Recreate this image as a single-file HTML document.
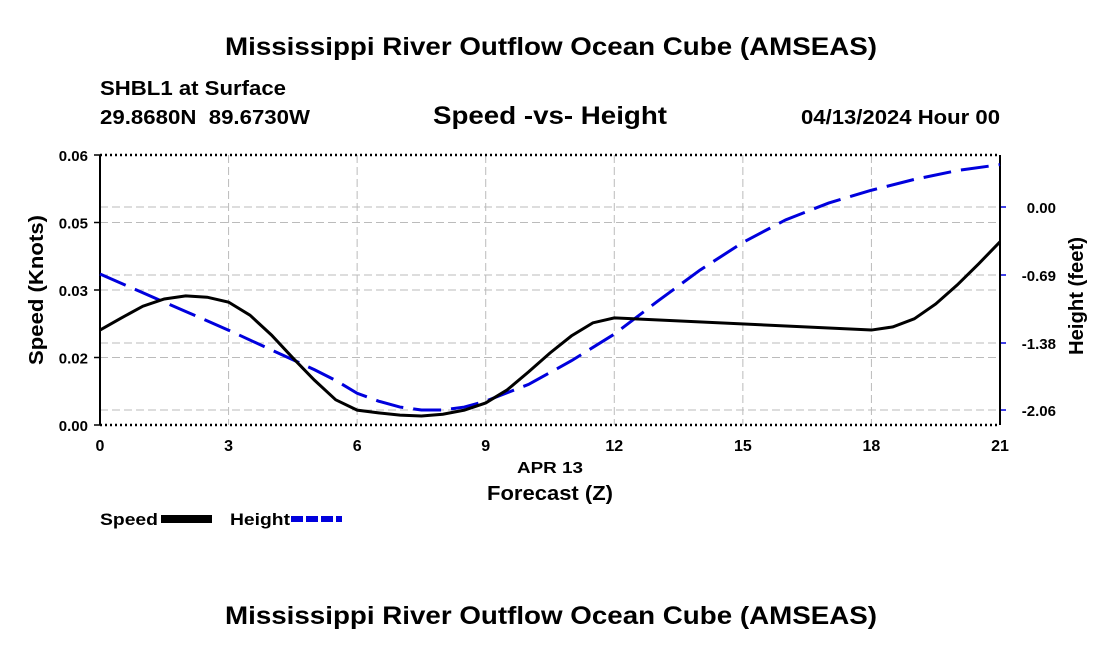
<!DOCTYPE html>
<html><head><meta charset="utf-8"><style>
body{margin:0;background:#fff;}
svg text{font-family:"Liberation Sans",sans-serif;font-weight:bold;fill:#000;}
</style></head><body>
<svg width="1100" height="650" xmlns="http://www.w3.org/2000/svg" id="chart">
<text x="225" y="55" font-size="25" textLength="652" lengthAdjust="spacingAndGlyphs">Mississippi River Outflow Ocean Cube (AMSEAS)</text>
<text x="100" y="95" font-size="20" textLength="186" lengthAdjust="spacingAndGlyphs">SHBL1 at Surface</text>
<text x="100" y="124" font-size="20" textLength="210" lengthAdjust="spacingAndGlyphs" xml:space="preserve">29.8680N  89.6730W</text>
<text x="433" y="124" font-size="25" textLength="234" lengthAdjust="spacingAndGlyphs">Speed -vs- Height</text>
<text x="801" y="124" font-size="20" textLength="199" lengthAdjust="spacingAndGlyphs">04/13/2024 Hour 00</text>
<g id="grid"></g>
<g id="axes"></g>
<g id="series"></g>
<text x="517" y="473" font-size="16" textLength="66" lengthAdjust="spacingAndGlyphs">APR 13</text>
<text x="487" y="500" font-size="20" textLength="126" lengthAdjust="spacingAndGlyphs">Forecast (Z)</text>
<text transform="translate(43,290) rotate(-90)" font-size="20" text-anchor="middle" textLength="150" lengthAdjust="spacingAndGlyphs">Speed (Knots)</text>
<text transform="translate(1083,296) rotate(-90)" font-size="20" text-anchor="middle" textLength="118" lengthAdjust="spacingAndGlyphs">Height (feet)</text>
<g><text x="100" y="525" font-size="17" textLength="58" lengthAdjust="spacingAndGlyphs">Speed</text><rect x="161" y="515" width="51" height="8" fill="#000"/></g>
<g><text x="230" y="525" font-size="17" textLength="60" lengthAdjust="spacingAndGlyphs">Height</text><line x1="291" y1="519" x2="342" y2="519" stroke="#0000dd" stroke-width="6" stroke-dasharray="12,3"/></g>
<text x="225" y="624" font-size="25" textLength="652" lengthAdjust="spacingAndGlyphs">Mississippi River Outflow Ocean Cube (AMSEAS)</text>
</svg>
<script>
const hours=[0,0.5,1,1.5,2,2.5,3,3.5,4,4.5,5,5.5,6,6.5,7,7.5,8,8.5,9,9.5,10,10.5,11,11.5,12,18,18.5,19,19.5,20,20.5,21];
const speed=[0.0211,0.0238,0.0264,0.0280,0.0287,0.0284,0.0273,0.0244,0.0200,0.0149,0.0100,0.0056,0.0033,0.0027,0.0022,0.0020,0.0024,0.0033,0.0049,0.0078,0.0118,0.0160,0.0198,0.0227,0.0238,0.0211,0.0218,0.0236,0.0269,0.0311,0.0358,0.0407];
const hHours=[0,1,2,3,4,5,5.5,6,6.5,7,7.5,8,8.5,9,10,11,12,13,14,15,16,17,18,19,20,21];
const height=[-0.68,-0.87,-1.06,-1.25,-1.45,-1.65,-1.76,-1.89,-1.97,-2.03,-2.06,-2.06,-2.03,-1.97,-1.80,-1.56,-1.29,-0.96,-0.64,-0.36,-0.13,0.04,0.17,0.28,0.37,0.43];
const xTicks=[0,3,6,9,12,15,18,21];
const yTicks=[0,0.015,0.03,0.045,0.06];
const yTickLabels=["0.00","0.02","0.03","0.05","0.06"];
const y2Ticks=[-2.06,-1.38,-0.69,0];
const y2TickLabels=["-2.06","-1.38","-0.69","0.00"];
const X0=100,X1=1000,YT=155,YB=425;
const xs=h=>X0+h/21*(X1-X0);
const ys=v=>YB-v/0.06*(YB-YT);
const y2s=v=>207-v/0.69*68;
const NS="http://www.w3.org/2000/svg";
function mk(p,t,a){const e=document.createElementNS(NS,t);for(const k in a)e.setAttribute(k,a[k]);p.appendChild(e);return e;}
const grid=document.getElementById('grid'),axes=document.getElementById('axes'),series=document.getElementById('series');
xTicks.forEach((t,i)=>{if(i>0&&i<xTicks.length-1){const l=mk(grid,'line',{x1:xs(t),x2:xs(t),y1:YT,y2:YB,stroke:'#bbb','stroke-dasharray':'8,4'});

}
const tx=mk(axes,'text',{x:xs(t),y:YB+26,'font-size':16,'text-anchor':'middle'});tx.textContent=t;

});
yTicks.forEach((t,i)=>{const y=ys(t);if(i>0&&i<yTicks.length-1){const l=mk(grid,'line',{x1:X0,x2:X1,y1:y,y2:y,stroke:'#bbb','stroke-dasharray':'8,4'});

}
mk(axes,'line',{x1:X0-6,x2:X0,y1:y,y2:y,stroke:'#000','stroke-width':1.5});
const tx=mk(axes,'text',{x:X0-12,y:y+6,'font-size':15,'text-anchor':'end'});tx.textContent=yTickLabels[i];

});
y2Ticks.forEach((t,i)=>{const y=y2s(t);const l=mk(grid,'line',{x1:X0,x2:X1,y1:y,y2:y,stroke:'#bbb','stroke-dasharray':'8,4'});


mk(axes,'line',{x1:X1,x2:X1+6,y1:y,y2:y,stroke:'#0000dd','stroke-width':1.5});
const tx=mk(axes,'text',{x:X1+56,y:y+6,'font-size':15,'text-anchor':'end'});tx.textContent=y2TickLabels[i];

});
mk(axes,'line',{x1:X0,x2:X0,y1:YT,y2:YB,stroke:'#000','stroke-width':2});
mk(axes,'line',{x1:X1,x2:X1,y1:YT,y2:YB,stroke:'#000','stroke-width':2});
mk(axes,'line',{x1:X0,x2:X1,y1:YT,y2:YT,stroke:'#000','stroke-width':2.5,'stroke-dasharray':'2,3'});
mk(axes,'line',{x1:X0,x2:X1,y1:YB,y2:YB,stroke:'#000','stroke-width':2.5,'stroke-dasharray':'2,3'});
const hp=mk(series,'polyline',{points:hHours.map((h,i)=>xs(h)+','+y2s(height[i])).join(' '),fill:'none',stroke:'#0000dd','stroke-width':3,'stroke-dasharray':'28,10'});


const sp=mk(series,'polyline',{points:hours.map((h,i)=>xs(h)+','+ys(speed[i])).join(' '),fill:'none',stroke:'#000','stroke-width':3});


</script>
</body></html>
